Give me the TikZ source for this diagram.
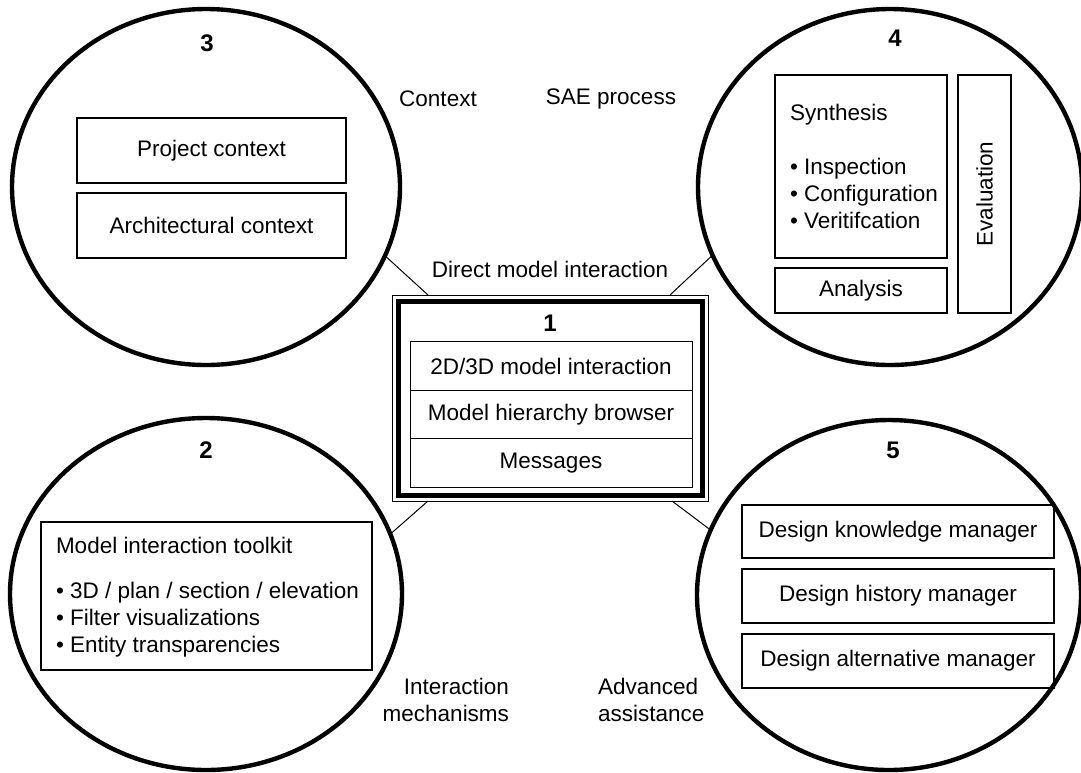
\documentclass[tikz,border=0pt]{standalone}
\usepackage{fontspec}
\setmainfont{Liberation Sans}
\usetikzlibrary{shapes.geometric, positioning}

\begin{document}
\begin{tikzpicture}[x=0.5pt, y=-0.5pt,
    every node/.style={font=\fontsize{11.25}{13.5}\selectfont, inner sep=0pt, outer sep=0pt},
    zone/.style={draw, ellipse, line width=2.2pt},
    box/.style={draw, line width=0.8pt},
    row/.style={draw, line width=0.5pt, minimum width=141pt, minimum height=24.25pt},
    num/.style={font=\fontsize{12}{14}\selectfont\bfseries},
    link/.style={line width=0.5pt}]
    \useasboundingbox (0,0) rectangle (1081,772);

    % the five zones
    \node (c3) at (206,187) [zone, minimum width=388pt/2, minimum height=356pt/2] {};
    \node (c2) at (206,594) [zone, minimum width=392pt/2, minimum height=352pt/2] {};
    \node (c4) at (890,187) [zone, minimum width=384pt/2, minimum height=356pt/2] {};
    \node (c5) at (889,595) [zone, minimum width=384pt/2, minimum height=350pt/2] {};

    % centre: 1
    \node (m1) at (550,398) [draw, line width=0.5pt, minimum width=158pt, minimum height=103pt] {};
    \node (m1in) at (550,398) [draw, line width=2.5pt, minimum width=152pt, minimum height=97pt] {};
    \node at (550,323) [num] {1};
    \node (r1) at (551,366) [row] {2D/3D model interaction};
    \node (r2) [row, below=0pt of r1] {Model hierarchy browser};
    \node (r3) [row, below=0pt of r2] {Messages};

    % 3
    \node at (207,43) [num] {3};
    \node (pc) at (211.5,150.5) [box, minimum width=134.5pt, minimum height=32.5pt] {Project context};
    \node (ac) at (211.5,225.5) [box, minimum width=134.5pt, minimum height=32.5pt] {Architectural context};

    % 4
    \node at (895,38) [num] {4};
    \node (syn) at (861,166.5) [box, minimum width=86pt, minimum height=91.5pt] {};
    \node at (790,166.5) [anchor=west, align=left] {Synthesis\\[13.5pt]• Inspection\\• Configuration\\• Veritifcation};
    \node (ana) at (861,290.5) [box, minimum width=86pt, minimum height=22.5pt] {Analysis};
    \node (eva) at (984.5,194) [box, minimum width=26.5pt, minimum height=119pt] {};
    \node at (eva) [rotate=90] {Evaluation};

    % 2
    \node at (206,450) [num] {2};
    \node (tk) at (206.5,596) [box, minimum width=165.5pt, minimum height=74pt] {};
    \node at (56,597) [anchor=west, align=left] {Model interaction toolkit\\[9pt]• 3D / plan / section / elevation\\• Filter visualizations\\• Entity transparencies};

    % 5
    \node at (893,450) [num] {5};
    \node (dk) at (898,531.5) [box, minimum width=156pt, minimum height=26.5pt] {Design knowledge manager};
    \node (dh) at (898,596) [box, minimum width=156pt, minimum height=27pt] {Design history manager};
    \node (da) at (898,661) [box, minimum width=156pt, minimum height=27pt] {Design alternative manager};

    % labels
    \node (lctx) at (438,99) {Context};
    \node (lsae) at (611,99) {SAE process};
    \node (ldmi) at (550,269) {Direct model interaction};
    \node (lint) at (509,700) [anchor=east, align=right] {Interaction\\mechanisms};
    \node (ladv) at (598,700) [anchor=west, align=left] {Advanced\\assistance};

    % connectors
    \coordinate (j3) at (428,295);
    \coordinate (j4) at (670,295);
    \coordinate (j2) at (428,501);
    \coordinate (j5) at (672,501);
    \draw [link] (c3.-21.8) -- (j3);
    \draw [link] (c4.201.5) -- (j4);
    \draw [link] (c2.18.5) -- (j2);
    \draw [link] (c5.160) -- (j5);
\end{tikzpicture}
\end{document}
